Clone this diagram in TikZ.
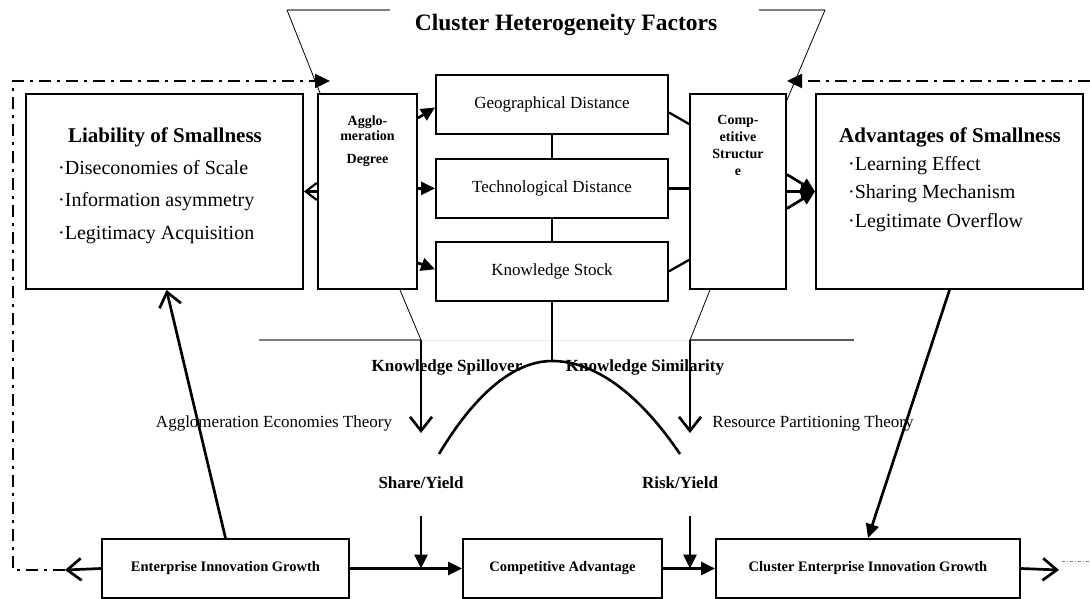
\documentclass[tikz,border=0pt]{standalone}
\usepackage{fontspec}
\setmainfont{Liberation Serif}
\usetikzlibrary{arrows.meta,positioning,calc}

\begin{document}
\begin{tikzpicture}[x=1pt,y=-1pt,
  box/.style={draw,line width=1.9pt,inner sep=0pt},
  ttl/.style={font=\fontsize{21}{24}\selectfont\bfseries,inner sep=0pt},
  bul/.style={align=left,inner sep=0pt},
  lbl/.style={font=\fontsize{17}{20}\selectfont\bfseries,inner sep=0pt},
  thy/.style={font=\fontsize{17}{20}\selectfont,inner sep=0pt},
  tag/.style={align=center,inner sep=0pt},
  ln/.style={line width=2.3pt},
  fa/.style={line width=2.7pt,-{Triangle[length=14pt,width=13pt]}},
  oa/.style={line width=2.7pt,-{Straight Barb[length=14pt,width=22pt]}},
  rim/.style={line width=0.8pt},
  gl/.style={draw=gray,line width=1.4pt},
  dd/.style={line width=2.4pt,dash pattern=on 12pt off 6pt on 3pt off 6pt}]
\useasboundingbox (0,0) rectangle (1090,599);

\node[font=\fontsize{23.5}{26}\selectfont\bfseries] (head) at (566,25) {Cluster Heterogeneity Factors};

\node[box,minimum width=277pt,minimum height=195pt] (lia) at (164.5,191.5) {};
\node[box,minimum width=99pt,minimum height=195pt] (agg) at (367.5,191.5) {};
\node[box,minimum width=232pt,minimum height=59pt,font=\fontsize{17}{20}\selectfont] (geo) at (552,104.5) {Geographical Distance};
\node[box,minimum width=232pt,minimum height=59pt,font=\fontsize{17}{20}\selectfont,below=23pt of geo] (tech) {Technological Distance};
\node[box,minimum width=232pt,minimum height=59pt,font=\fontsize{17}{20}\selectfont,below=22pt of tech] (ks) {Knowledge Stock};
\node[box,minimum width=96pt,minimum height=195pt] (comp) at (738,191.5) {};
\node[box,minimum width=267pt,minimum height=195pt] (adv) at (949.5,191.5) {};

\node[ttl] (liat) at (165,137) {Liability of Smallness};
\node[bul,font=\fontsize{20}{32.5}\selectfont,anchor=west] (liab) at (58,202) {·Diseconomies of Scale\\·Information asymmetry\\·Legitimacy Acquisition};
\node[ttl] (advt) at (950,137) {Advantages of Smallness};
\node[bul,font=\fontsize{20}{28.5}\selectfont,anchor=west] (advb) at (848,194) {·Learning Effect\\·Sharing Mechanism\\·Legitimate Overflow};
\node[tag,font=\fontsize{14}{15}\selectfont\bfseries,anchor=north] (aggt) at ([yshift=-23pt]agg.north) {Agglo-\\meration\\[8pt]Degree};
\node[tag,font=\fontsize{14}{17}\selectfont\bfseries,anchor=north] (compt) at ([yshift=-22pt]comp.north) {Comp-\\etitive\\Structur\\e};

\node[box,minimum width=247pt,minimum height=59pt,font=\fontsize{14.5}{16}\selectfont\bfseries] (eig) at (225.5,568.5) {Enterprise Innovation Growth};
\node[box,minimum width=199pt,minimum height=59pt,font=\fontsize{14.5}{16}\selectfont\bfseries] (ca) at (562.5,568.5) {Competitive Advantage};
\node[box,minimum width=304pt,minimum height=59pt,font=\fontsize{14.5}{16}\selectfont\bfseries] (ceig) at (868,568.5) {Cluster Enterprise Innovation Growth};

\node[lbl] (ksp) at (447,367) {Knowledge Spillover};
\node[lbl] (ksi) at (645,367) {Knowledge Similarity};
\node[thy] (aet) at (274,423) {Agglomeration Economies Theory};
\node[thy] (rpt) at (813,423) {Resource Partitioning Theory};
\node[lbl] (share) at (421,483) {Share/Yield};
\node[lbl] (risk) at (680,483) {Risk/Yield};

\coordinate (tl) at (287,10);
\coordinate (tlg) at (390,10);
\coordinate (tr) at (825,10);
\coordinate (trg) at (759,10);
\coordinate (bl) at (421,340);
\coordinate (blg) at (259,340);
\coordinate (blt) at (421,433);
\coordinate (br) at (690,340);
\coordinate (brg) at (854,340);
\coordinate (brt) at (690,433);
\coordinate (ss) at (421,516);
\coordinate (rs) at (690,516);
\coordinate (pl) at (439,454);
\coordinate (pr) at (680,454);
\coordinate (apex) at (552,361);
\coordinate (eiga) at (65,570);
\coordinate (ddl) at (13,570);
\coordinate (ddt) at (13,81);
\coordinate (ddtip) at (330,81);
\coordinate (ddr) at (1090,81);
\coordinate (ddrtip) at (787,81);
\coordinate (ceiga) at (1059,570);
\coordinate (tail) at (1062,561);
\coordinate (tailr) at (1090,561);

\draw[gl] (tl) -- (tlg);
\draw[rim] (tl) -- ([xshift=3pt]agg.north west);
\draw[gl] (trg) -- (tr);
\draw[rim] (tr) -- ([yshift=-7pt]comp.north east);
\draw[gl] (blg) -- (bl);
\draw[draw=gray!15,line width=1pt] (bl) -- (br);
\draw[gl,draw=gray!70!black] (br) -- (brg);
\draw[rim] ([xshift=-18pt]agg.south east) -- (bl);
\draw[rim] ([xshift=-77pt]comp.south east) -- (br);

\draw[dd,-{Triangle[length=15pt,width=14pt]}] (eiga) -- (ddl) -- (ddt) -- (ddtip);
\draw[dd,-{Triangle[length=15pt,width=14pt]}] (ddr) -- (ddrtip);
\draw[gray,line width=0.8pt,dash pattern=on 3pt off 2pt on 1pt off 2pt] (tail) -- (tailr);

\draw[line width=2.2pt,-{Straight Barb[length=11pt,width=17pt]}] (agg.west) -- (lia.east);
\draw[fa] ([yshift=-25pt]agg.north east) -- ([yshift=-3pt]geo.west);
\draw[fa] (agg.east |- tech.west) -- (tech.west);
\draw[fa] ([yshift=27pt]agg.south east) -- ([yshift=2pt]ks.west);
\draw[line width=1.6pt] (geo) -- (tech);
\draw[line width=1.6pt] (tech) -- (ks);
\draw[line width=1.6pt] (ks.south) -- (apex);
\draw[ln] ([yshift=-8pt]geo.east) -- ([yshift=-31pt]comp.north west);
\draw[ln] (tech.east) -- (tech.east -| comp.west);
\draw[ln] (ks.east) -- ([yshift=30pt]comp.south west);
\draw[fa] ([yshift=17pt]comp.east) -- (adv.west);
\draw[fa] (comp.east) -- (adv.west);
\draw[fa] ([yshift=-17pt]comp.east) -- (adv.west);

\draw[oa] (bl) -- (blt);
\draw[oa] (br) -- (brt);
\draw[line width=2.6pt] (pl) parabola bend (apex) (pr);
\draw[fa] (ss) -- (ss |- eig.east);
\draw[fa] (rs) -- (rs |- ca.east);

\draw[oa] (eig.west) -- (eiga);
\draw[fa] (eig) -- (ca);
\draw[fa] (ca) -- (ceig);
\draw[oa] (ceig.east) -- (ceiga);
\draw[oa] (eig.north) -- ([xshift=2pt]lia.south);
\draw[fa] (adv.south) -- (ceig.north);
\end{tikzpicture}
\end{document}
